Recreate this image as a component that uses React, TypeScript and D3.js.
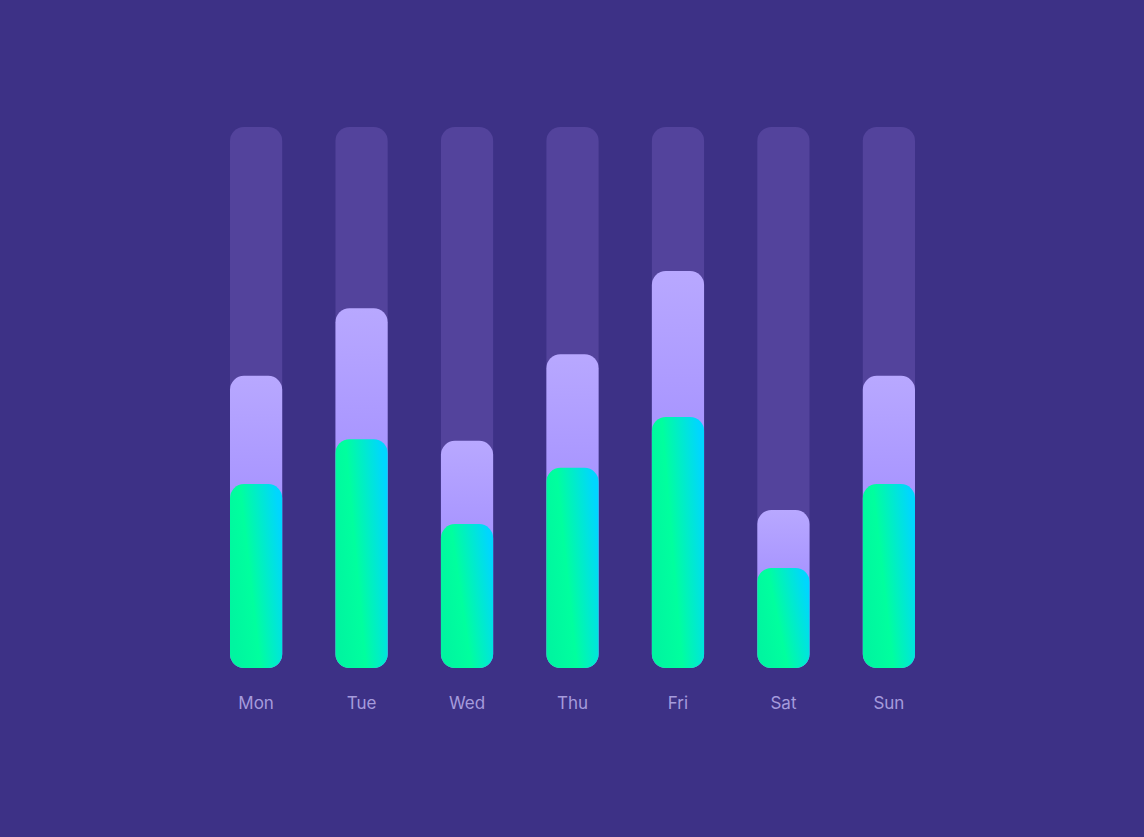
import React, { useEffect } from "react";
import * as d3 from "d3";

const WIDTH = 1144;
const HEIGHT = 837;
const MARGIN = { top: 127, right: 229, bottom: 169, left: 230 };
const BAR_PADDING = 0.505;
const RADIUS = 14;

const days = ["Mon", "Tue", "Wed", "Thu", "Fri", "Sat", "Sun"];
const totalValues = [54, 66.5, 42, 58, 73.4, 29.2, 54];
const activeValues = [34, 42.3, 26.6, 37, 46.4, 18.5, 34];
const maxValue = 100;

export default function App() {
	useEffect(() => {
		document.body.style.margin = "0";
		document.body.style.background = "#3d3186";
	}, []);

	const boundsWidth = WIDTH - MARGIN.left - MARGIN.right;
	const boundsHeight = HEIGHT - MARGIN.top - MARGIN.bottom;

	const xScale = d3
		.scaleBand()
		.domain(days)
		.range([0, boundsWidth])
		.paddingInner(BAR_PADDING)
		.paddingOuter(0);

	const yScale = d3.scaleLinear().domain([0, maxValue]).range([boundsHeight, 0]);

	const bars = days.map((day, i) => {
		const x = xScale(day);
		if (x === undefined) return null;
		const w = xScale.bandwidth();
		const yTotal = yScale(totalValues[i]);
		const yActive = yScale(activeValues[i]);
		return (
			<g key={day}>
				<rect
					x={x}
					width={w}
					y={yScale(maxValue)}
					height={boundsHeight - yScale(maxValue)}
					rx={RADIUS}
					fill="#5747a0"
					opacity={0.85}
				/>
				<rect
					x={x}
					width={w}
					y={yTotal}
					height={boundsHeight - yTotal}
					rx={RADIUS}
					fill="url(#purpleGrad)"
				/>
				<rect
					x={x}
					width={w}
					y={yActive}
					height={boundsHeight - yActive}
					rx={RADIUS}
					fill="url(#greenGrad)"
				/>
				<text
					x={x + w / 2}
					y={boundsHeight + 41}
					textAnchor="middle"
					fontSize={17}
					fontFamily="Inter, 'Noto Sans', sans-serif"
					fill="#a59bdc"
				>
					{day}
				</text>
			</g>
		);
	});

	return (
		<div style={{ position: "fixed", left: 0, top: 0, width: WIDTH, height: HEIGHT }}>
			<svg width={WIDTH} height={HEIGHT} style={{ display: "block" }}>
				<defs>
					<linearGradient id="purpleGrad" x1="0" y1="0" x2="0" y2="1">
						<stop offset="0%" stopColor="#b8a8ff" />
						<stop offset="55%" stopColor="#a28eff" />
						<stop offset="100%" stopColor="#9d88ff" />
					</linearGradient>
					<linearGradient id="greenGrad" x1="0" y1="0.7" x2="1" y2="0.3">
						<stop offset="0%" stopColor="#00f5a0" />
						<stop offset="40%" stopColor="#00ff9e" />
						<stop offset="100%" stopColor="#00d6ff" />
					</linearGradient>
				</defs>
				<rect width={WIDTH} height={HEIGHT} fill="#3d3186" />
				<g transform={`translate(${MARGIN.left},${MARGIN.top})`}>{bars}</g>
			</svg>
		</div>
	);
}
